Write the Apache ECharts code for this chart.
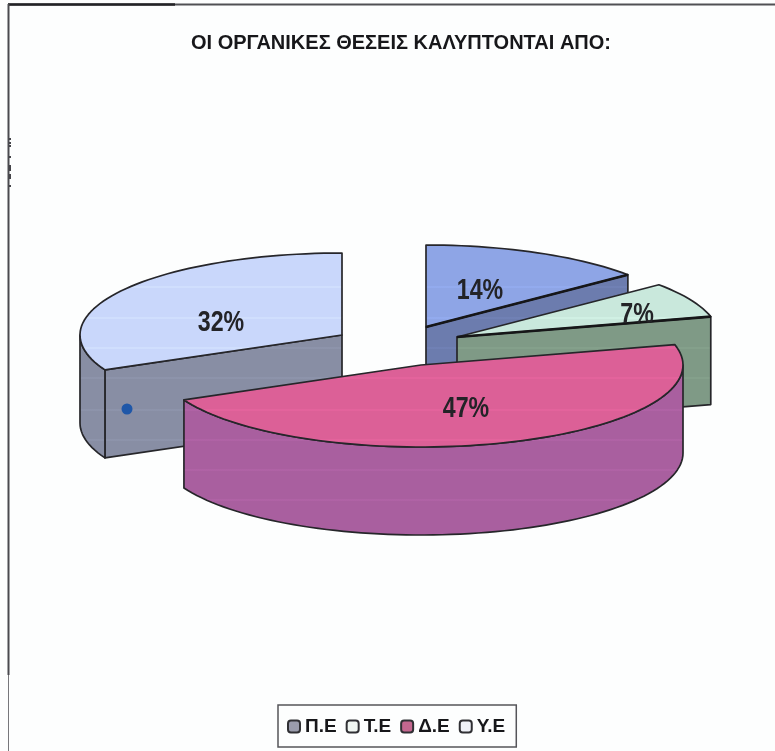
<!DOCTYPE html>
<html lang="el">
<head>
<meta charset="utf-8">
<title>ΟΙ ΟΡΓΑΝΙΚΕΣ ΘΕΣΕΙΣ ΚΑΛΥΠΤΟΝΤΑΙ ΑΠΟ:</title>
<style>
  html, body { margin: 0; padding: 0; background: #fdfefe; }
  #chart { width: 775px; height: 751px; }
</style>
<script src="https://cdn.jsdelivr.net/npm/echarts@6/dist/echarts.min.js"></script>
</head>
<body>
<div id="chart"></div>
<script>
// Share of established posts per staff category (percent), clockwise from 12 o'clock.
const categories = ['Π.Ε', 'Τ.Ε', 'Δ.Ε', 'Υ.Ε'];
const shares = [14, 7, 47, 32];
const chartTitle = 'ΟΙ ΟΡΓΑΝΙΚΕΣ ΘΕΣΕΙΣ ΚΑΛΥΠΤΟΝΤΑΙ ΑΠΟ:';

// Colours of each wedge: top face, side wall, legend swatch.
const topColors = ['#8ea5e6', '#c9e8dc', '#dc6097', '#c9d7fb'];
const wallColors = ['#6c7cae', '#7f9a86', '#a95f9f', '#888ea4'];
const swatchColors = ['#9a9cac', '#f0f6f2', '#c4678f', '#f0f2f8'];

// Tilted-disc projection and the exploded position of each wedge's apex.
const RX = 262, RY = 82, DEPTH = 88;
const apexes = [[426, 327], [457, 337], [421, 365], [342, 335]];
const labelSpots = [[480, 291], [637, 315], [466, 409], [221, 323]];
const OUTLINE = '#26262a';

// Pale scan bands running across the whole disc.
const bandRows = [287, 318, 348, 378, 410, 440, 470, 500];

// Small binder marks along the left edge of the frame.
const edgeMarks = [[138, 2], [142, 2], [145, 2], [156, 2], [165, 6], [174, 5], [185, 2]];

const total = shares.reduce((a, b) => a + b, 0);

function rimPoint(apex, deg, drop) {
  const t = deg * Math.PI / 180;
  return [apex[0] + RX * Math.sin(t), apex[1] - RY * Math.cos(t) + (drop || 0)];
}

function arcPoints(apex, from, to, drop) {
  const pts = [];
  const steps = Math.max(2, Math.ceil(Math.abs(to - from) / 2));
  for (let i = 0; i <= steps; i++) {
    pts.push(rimPoint(apex, from + (to - from) * i / steps, drop));
  }
  return pts;
}

// Vertical fill that overlays thin lighter bands on the base colour.
function bandedFill(base, band) {
  const top = 230, span = 300, stops = [{ offset: 0, color: base }];
  bandRows.forEach(function (row) {
    const a = (row - 1 - top) / span, b = (row - top) / span, c = (row + 1 - top) / span;
    stops.push({ offset: a, color: base }, { offset: b, color: band }, { offset: c, color: base });
  });
  stops.push({ offset: 1, color: base });
  return { type: 'linear', x: 0, y: top, x2: 0, y2: top + span, global: true, colorStops: stops };
}

function poly(points, fill) {
  return {
    type: 'polygon',
    shape: { points: points },
    style: { fill: fill, stroke: OUTLINE, lineWidth: 1.7, lineJoin: 'round' }
  };
}

function wedgeRenderer(index, startDeg) {
  return function (params, api) {
    const sweep = api.value(0) / total * 360;
    const endDeg = startDeg + sweep;
    const apex = apexes[index];
    const children = [];
    const wallFill = bandedFill(wallColors[index], echarts.color.lift(wallColors[index], -0.08));
    const topFill = bandedFill(topColors[index], echarts.color.lift(topColors[index], -0.07));

    // Radial wall on the trailing edge of the wedge, seen when it faces the viewer.
    if (endDeg <= 90) {
      const c = rimPoint(apex, endDeg);
      children.push(poly([apex, c, [c[0], c[1] + DEPTH], [apex[0], apex[1] + DEPTH]], wallFill));
    }
    // Radial wall on the leading edge, for wedges past the lower half of the disc.
    if (startDeg > 180 && startDeg < 270) {
      const c = rimPoint(apex, startDeg);
      children.push(poly([apex, c, [c[0], c[1] + DEPTH], [apex[0], apex[1] + DEPTH]], wallFill));
    }
    // Curved outer wall: only the front half of the rim is visible.
    const wallFrom = Math.max(startDeg, 90), wallTo = Math.min(endDeg, 270);
    if (wallTo > wallFrom) {
      const upper = arcPoints(apex, wallFrom, wallTo, 0);
      const lower = arcPoints(apex, wallTo, wallFrom, DEPTH);
      children.push(poly(upper.concat(lower), wallFill));
    }
    // Top face.
    const rim = arcPoints(apex, startDeg, endDeg, 0);
    children.push(poly([apex].concat(rim), topFill));
    // The boundary between neighbouring upper wedges is drawn heavier.
    if (endDeg <= 90) {
      children.push({
        type: 'line',
        shape: { x1: apex[0], y1: apex[1], x2: rim[rim.length - 1][0], y2: rim[rim.length - 1][1] },
        style: { stroke: '#161618', lineWidth: 2.6 }
      });
    }
    // Percentage label, in a narrow heavy face.
    children.push({
      type: 'text',
      x: labelSpots[index][0],
      y: labelSpots[index][1],
      scaleX: 0.8,
      style: {
        text: api.value(0) + '%',
        font: 'bold 29px "Liberation Sans", sans-serif',
        fill: '#232327',
        align: 'center',
        verticalAlign: 'middle'
      }
    });
    return { type: 'group', children: children };
  };
}

// Each wedge starts where the previous one ended.
let running = 0;
const drawOrder = [0, 3, 1, 2];
const starts = shares.map(function (v) {
  const s = running / total * 360;
  running += v;
  return s;
});

const series = categories.map(function (name, i) {
  return {
    type: 'custom',
    name: name,
    coordinateSystem: 'none',
    silent: true,
    z: 2 + drawOrder.indexOf(i),
    itemStyle: { color: swatchColors[i], borderColor: '#303034', borderWidth: 1.8 },
    renderItem: wedgeRenderer(i, starts[i]),
    data: [[shares[i]]],
    animation: false
  };
});

const frame = [
  { type: 'line', shape: { x1: 8, y1: 4.5, x2: 775, y2: 4.5 }, style: { stroke: '#505054', lineWidth: 2 }, z: 1 },
  { type: 'line', shape: { x1: 8, y1: 4.5, x2: 175, y2: 4.5 }, style: { stroke: '#232327', lineWidth: 2.4 }, z: 1 },
  { type: 'line', shape: { x1: 8.5, y1: 4, x2: 8.5, y2: 675 }, style: { stroke: '#4a4a4f', lineWidth: 2 }, z: 1 },
  { type: 'line', shape: { x1: 8.5, y1: 675, x2: 8.5, y2: 751 }, style: { stroke: '#77777b', lineWidth: 1 }, z: 1 },
  // Ink speck on the side of the large pale wedge.
  { type: 'circle', shape: { cx: 127, cy: 409, r: 5.5 }, style: { fill: '#1f57a8' }, z: 20 }
].concat(edgeMarks.map(function (m) {
  return { type: 'rect', shape: { x: 9, y: m[0], width: 2, height: m[1] }, style: { fill: '#45454a' }, z: 1 };
}));

const chart = echarts.init(document.getElementById('chart'), null, { renderer: 'canvas' });
chart.setOption({
  backgroundColor: '#fdfefe',
  animation: false,
  title: {
    text: chartTitle,
    left: 396,
    top: 28,
    textAlign: 'center',
    textStyle: {
      fontFamily: '"Liberation Sans", sans-serif',
      fontWeight: 'bold',
      fontSize: 20,
      color: '#17171a'
    }
  },
  legend: {
    data: categories,
    left: 278,
    top: 705,
    itemWidth: 12,
    itemHeight: 12,
    itemGap: 9,
    padding: [12, 11, 11, 9],
    icon: 'roundRect',
    borderColor: '#55555a',
    borderWidth: 1.5,
    selectedMode: false,
    textStyle: {
      fontFamily: '"Liberation Sans", sans-serif',
      fontWeight: 'bold',
      fontSize: 19,
      color: '#17171a'
    }
  },
  graphic: frame,
  series: series
});
</script>
</body>
</html>
